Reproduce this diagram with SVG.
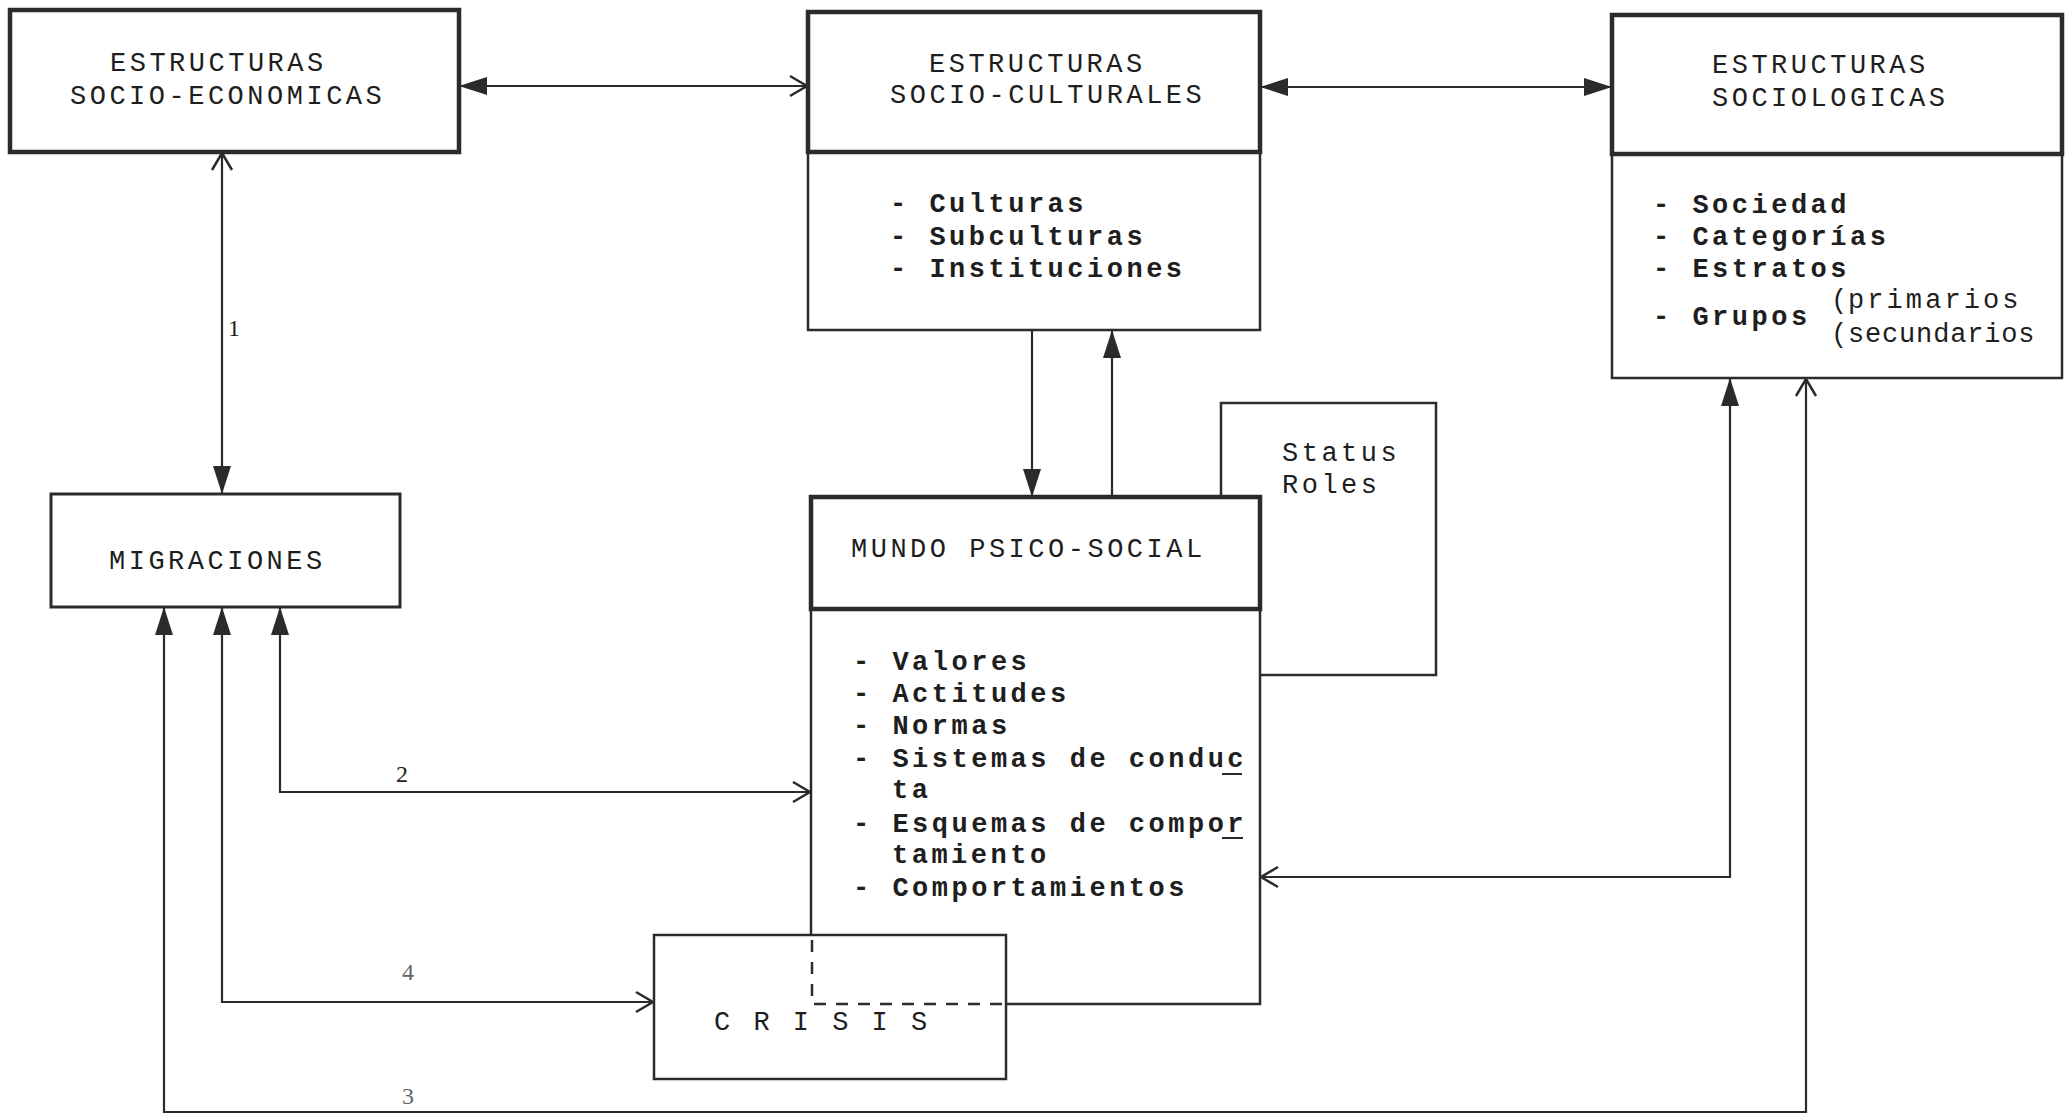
<svg xmlns="http://www.w3.org/2000/svg" width="2068" height="1116" viewBox="0 0 2068 1116">
<style>
.box{fill:none;stroke:#2b2b2b;stroke-width:2.5}
.thick{fill:none;stroke:#2b2b2b;stroke-width:4.5}
.con{fill:none;stroke:#2b2b2b;stroke-width:2.2}
text{font-family:"Liberation Mono","Courier New",monospace;font-size:27px;fill:#1e1e1e;letter-spacing:3.5px}
.b{font-weight:bold}
.lbl{font-family:"Liberation Serif",serif;font-size:24px;letter-spacing:0}
.faint{fill:#666}
</style>
<defs>
<marker id="fa" viewBox="0 -10 28 20" refX="28" refY="0" markerWidth="28" markerHeight="20" orient="auto-start-reverse" markerUnits="userSpaceOnUse"><path d="M0,-9 L28,0 L0,9 z" fill="#2b2b2b"/></marker>
<marker id="oa" viewBox="0 -12 20 24" refX="19" refY="0" markerWidth="20" markerHeight="24" orient="auto-start-reverse" markerUnits="userSpaceOnUse"><path d="M1,-10 L18,0 L1,10" fill="none" stroke="#2b2b2b" stroke-width="2.5"/></marker>
</defs>
<rect width="2068" height="1116" fill="#fff"/>

<g id="connectors">
<path class="con" d="M459,86 L808,86" marker-start="url(#fa)" marker-end="url(#oa)"/>
<path class="con" d="M1260,87 L1612,87" marker-start="url(#fa)" marker-end="url(#fa)"/>
<path class="con" d="M222,152 L222,494" marker-start="url(#oa)" marker-end="url(#fa)"/>
<path class="con" d="M1032,330 L1032,497" marker-end="url(#fa)"/>
<path class="con" d="M1112,497 L1112,330" marker-end="url(#fa)"/>
<path class="con" d="M280,607 L280,792 L811,792" marker-start="url(#fa)" marker-end="url(#oa)"/>
<path class="con" d="M222,607 L222,1002 L654,1002" marker-start="url(#fa)" marker-end="url(#oa)"/>
<path class="con" d="M164,607 L164,1112 L1806,1112 L1806,378" marker-start="url(#fa)" marker-end="url(#oa)"/>
<path class="con" d="M1730,378 L1730,877 L1260,877" marker-start="url(#fa)" marker-end="url(#oa)"/>
<text class="lbl" x="228" y="336">1</text>
<text class="lbl" x="396" y="782">2</text>
<text class="lbl faint" x="402" y="980">4</text>
<text class="lbl faint" x="402" y="1104">3</text>
</g>

<g id="socio-economicas">
<rect class="thick" x="10" y="10" width="449" height="142"/>
<text x="110" y="71">ESTRUCTURAS</text>
<text x="70" y="104">SOCIO-ECONOMICAS</text>
</g>

<g id="socio-culturales">
<rect class="box" x="808" y="12" width="452" height="318"/>
<rect class="thick" x="808" y="12" width="452" height="140"/>
<text x="929" y="72">ESTRUCTURAS</text>
<text x="890" y="103">SOCIO-CULTURALES</text>
<text class="b" x="890" y="212">- Culturas</text>
<text class="b" x="890" y="245">- Subculturas</text>
<text class="b" x="890" y="277">- Instituciones</text>
</g>

<g id="sociologicas">
<rect class="box" x="1612" y="15" width="450" height="363"/>
<rect class="thick" x="1612" y="15" width="450" height="139"/>
<text x="1712" y="73">ESTRUCTURAS</text>
<text x="1712" y="106">SOCIOLOGICAS</text>
<text class="b" x="1653" y="213">- Sociedad</text>
<text class="b" x="1653" y="245">- Categorías</text>
<text class="b" x="1653" y="277">- Estratos</text>
<text class="b" x="1653" y="325">- Grupos</text>
<text x="1831" y="308">(</text>
<text x="1831" y="342">(</text>
<text x="1848" y="308" textLength="174" lengthAdjust="spacing">primarios</text>
<text x="1848" y="342" textLength="190" lengthAdjust="spacing">secundarios</text>
</g>

<g id="migraciones">
<rect class="box" x="51" y="494" width="349" height="113" style="stroke-width:3"/>
<text x="109" y="569">MIGRACIONES</text>
</g>

<g id="status-roles">
<path class="box" d="M1221,497 L1221,403 L1436,403 L1436,675 L1260,675"/>
<text x="1282" y="461">Status</text>
<text x="1282" y="493">Roles</text>
</g>

<g id="mundo-psico-social">
<path class="box" d="M811,609 L811,935 M1260,609 L1260,1004 L1006,1004"/>
<rect class="thick" x="811" y="497" width="449" height="112"/>
<path class="box" d="M812,940 L812,1004 L1006,1004" stroke-dasharray="12 10" style="stroke-width:2.5"/>
<text x="851" y="557">MUNDO PSICO-SOCIAL</text>
<text class="b" x="853" y="670">- Valores</text>
<text class="b" x="853" y="702">- Actitudes</text>
<text class="b" x="853" y="734">- Normas</text>
<text class="b" x="853" y="767">- Sistemas de conduc</text>
<text class="b" x="892" y="798">ta</text>
<text class="b" x="853" y="832">- Esquemas de compor</text>
<text class="b" x="892" y="863">tamiento</text>
<text class="b" x="853" y="896">- Comportamientos</text>
<path class="box" d="M1222,774 L1242,774 M1222,838 L1243,838" style="stroke-width:2"/>
</g>

<g id="crisis">
<rect class="box" x="654" y="935" width="352" height="144"/>
<text x="714" y="1030">C R I S I S</text>
</g>
</svg>
